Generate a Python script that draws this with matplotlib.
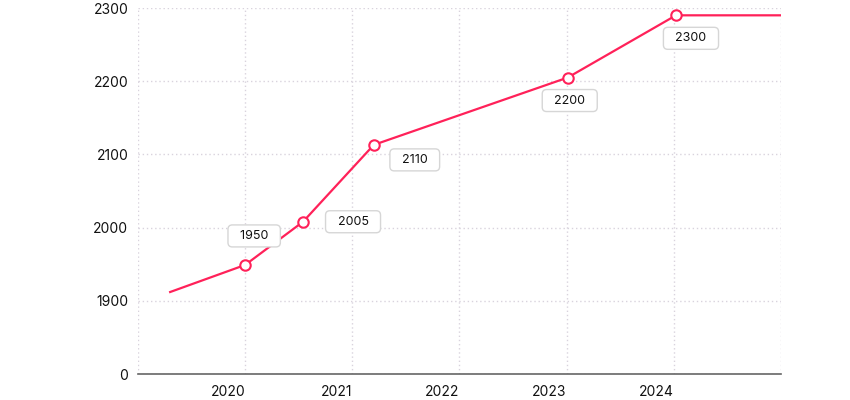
import numpy as np
import matplotlib.pyplot as plt

plt.rcParams['font.family'] = ['Inter', 'DejaVu Sans']

# données (années décimales)
annees = [2019.3, 2020.0, 2020.54, 2021.2, 2023.01, 2024.02, 2025.0]
valeurs = [1912, 1949, 2008, 2113, 2205, 2290, 2290]
avec_point = [False, True, True, True, True, True, False]
etiquettes = ['', '1950', '2005', '2110', '2200', '2300', '']
decalages = [(0, 0), (9, 29), (50, 0), (41, -15), (2, -23), (15, -23), (0, 0)]  # en pixels

yticks = [1800, 1900, 2000, 2100, 2200, 2300]
ytick_labels = ['0', '1900', '2000', '2100', '2200', '2300']
xticks = [2019, 2020, 2021, 2022, 2023, 2024, 2025]
xtick_labels = ['', '2020', '2021', '2022', '2023', '2024', '']

rouge = '#ff2159'
grille = '#d9d3dd'

fig = plt.figure(figsize=(8.5, 4), dpi=100)
ax = fig.add_axes([138/850, 26/400, (781-138)/850, (374-8)/400])

ax.plot(annees, valeurs, color=rouge, lw=1.6, zorder=3)
xs = [a for a, p in zip(annees, avec_point) if p]
ys = [v for v, p in zip(valeurs, avec_point) if p]
ax.plot(xs, ys, 'o', ms=7.5, mfc='white', mec=rouge, mew=1.5, zorder=4)

for a, v, txt, (dx, dy) in zip(annees, valeurs, etiquettes, decalages):
    if not txt:
        continue
    ax.annotate('  ' + txt + '  ', (a, v), xytext=(dx, dy), textcoords='offset pixels',
                ha='center', va='center', fontsize=9, color='#111111', zorder=5,
                bbox=dict(boxstyle='round,pad=0.4,rounding_size=0.35', fc='white',
                          ec='#d6d6d6', lw=1))

ax.set_xlim(2019, 2025)
ax.set_ylim(1800, 2300)
ax.set_xticks(xticks)
ax.set_xticklabels(xtick_labels)
ax.set_yticks(yticks)
ax.set_yticklabels(ytick_labels)
for lab in ax.get_xticklabels():
    lab.set_ha('right')

ax.tick_params(length=0, labelsize=10, colors='#111111')
ax.tick_params(axis='y', pad=7)
ax.tick_params(axis='x', pad=8)
ax.grid(True, color=grille, ls=(0, (1, 2)), lw=1)
for s in ['top', 'right', 'left']:
    ax.spines[s].set_visible(False)
ax.spines['bottom'].set_color('#666666')
ax.spines['bottom'].set_linewidth(1.2)
ax.set_axisbelow(True)

fig.savefig('out.png', dpi=100)
